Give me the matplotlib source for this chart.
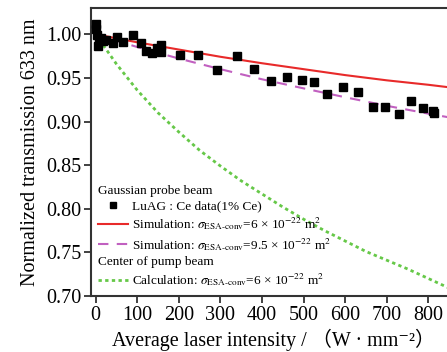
import matplotlib
matplotlib.use("Agg")
import matplotlib.pyplot as plt
from matplotlib.lines import Line2D
import numpy as np

plt.rcParams['font.family'] = ['Liberation Serif', 'DejaVu Serif', 'Noto Sans CJK SC']
plt.rcParams['mathtext.fontset'] = 'stix'

# measured transmission of the 633 nm probe, LuAG:Ce (1% Ce)
data_x = [0, 1, 3, 5, 8, 12, 19, 26, 42, 51, 67, 91, 108, 122, 136, 148, 157, 157,
          203, 245, 291, 341, 381, 421, 459, 496, 525, 557, 594, 631, 667, 696,
          728, 758, 787, 812, 814]
data_y = [1.012, 1.006, 0.999, 0.987, 0.994, 0.996, 0.992, 0.993, 0.990, 0.997,
          0.991, 0.999, 0.990, 0.981, 0.979, 0.984, 0.988, 0.980, 0.976, 0.976,
          0.959, 0.975, 0.960, 0.947, 0.951, 0.948, 0.945, 0.931, 0.940, 0.934,
          0.917, 0.917, 0.909, 0.923, 0.916, 0.912, 0.910]

# simulated / calculated curves
sim_x = [0, 100, 200, 300, 400, 500, 600, 700, 800, 850, 870]
sim6_y = [1.000, 0.9908, 0.9825, 0.9742, 0.9668, 0.960, 0.9532, 0.9472, 0.9421,
          0.9392, 0.9378]
sim95_y = [1.000, 0.9854, 0.9722, 0.960, 0.9484, 0.938, 0.9278, 0.918, 0.909,
           0.9047, 0.9029]

calc_x = [0, 50, 100, 150, 200, 250, 300, 350, 400, 450, 500, 550, 600, 650,
          700, 750, 800, 850, 870]
calc_y = [1.000, 0.966, 0.936, 0.910, 0.888, 0.867, 0.849, 0.832, 0.817, 0.802,
          0.788, 0.775, 0.763, 0.751, 0.741, 0.731, 0.720, 0.709, 0.706]

x_ticks = [0, 100, 200, 300, 400, 500, 600, 700, 800]
y_ticks = [0.70, 0.75, 0.80, 0.85, 0.90, 0.95, 1.00]

red = '#e82a2a'
purple = '#c160c0'
green = '#66c848'

fig = plt.figure(figsize=(4.47, 3.52), dpi=100)
ax = fig.add_axes([0.2036, 0.159, 1.02 - 0.2036, 0.818])

ax.plot(sim_x, sim6_y, color=red, lw=1.5)
ax.plot(sim_x, sim95_y, color=purple, lw=1.5, dashes=(5, 4))
ax.plot(calc_x, calc_y, color=green, lw=2, dashes=(1.2, 1.2))
ax.plot(data_x, data_y, 's', color='black', ms=5.5, zorder=5)

ax.set_xlim(-11, 866)
ax.set_ylim(0.70, 1.03)
ax.set_xticks(x_ticks)
ax.set_yticks(y_ticks)
ax.set_yticklabels(['%.2f' % v for v in y_ticks])
ax.tick_params(direction='out', length=5, width=1.3, labelsize=14.5, color='#333333', pad=2)
for s in ['left', 'bottom', 'top']:
    ax.spines[s].set_linewidth(1.5)
    ax.spines[s].set_color('#333333')
ax.spines['right'].set_visible(False)

ax.set_xlabel('Average laser intensity / （W · mm⁻²）', fontsize=14.5, labelpad=3)
ax.set_ylabel('Normalized transmission 633 nm', fontsize=14.5, labelpad=4)

sig = r'$\sigma_{\mathrm{ESA‐conv}}$'
h1 = [Line2D([], [], ls='none', marker='s', color='black', ms=5),
      Line2D([], [], color=red, lw=1.5),
      Line2D([], [], color=purple, lw=1.5, dashes=(5, 4))]
l1 = ['LuAG : Ce data(1% Ce)',
      'Simulation: ' + sig + r'=6 × 10$^{-22}$ m$^2$',
      'Simulation: ' + sig + r'=9.5 × 10$^{-22}$ m$^2$']
leg1 = ax.legend(h1, l1, title='Gaussian probe beam', loc='upper left',
                 bbox_to_anchor=(0.005, 0.405), frameon=False, fontsize=9.5,
                 title_fontsize=9.5, alignment='left', handlelength=2.3,
                 handletextpad=0.3, labelspacing=0.25, borderaxespad=0)
ax.add_artist(leg1)

h2 = [Line2D([], [], color=green, lw=2, dashes=(1.2, 1.2))]
l2 = ['Calculation: ' + sig + r'=6 × 10$^{-22}$ m$^2$']
ax.legend(h2, l2, title='Center of pump beam', loc='upper left',
          bbox_to_anchor=(0.005, 0.158), frameon=False, fontsize=9.5,
          title_fontsize=9.5, alignment='left', handlelength=2.3,
          handletextpad=0.3, labelspacing=0.25, borderaxespad=0)

fig.savefig('out.png', dpi=100)
